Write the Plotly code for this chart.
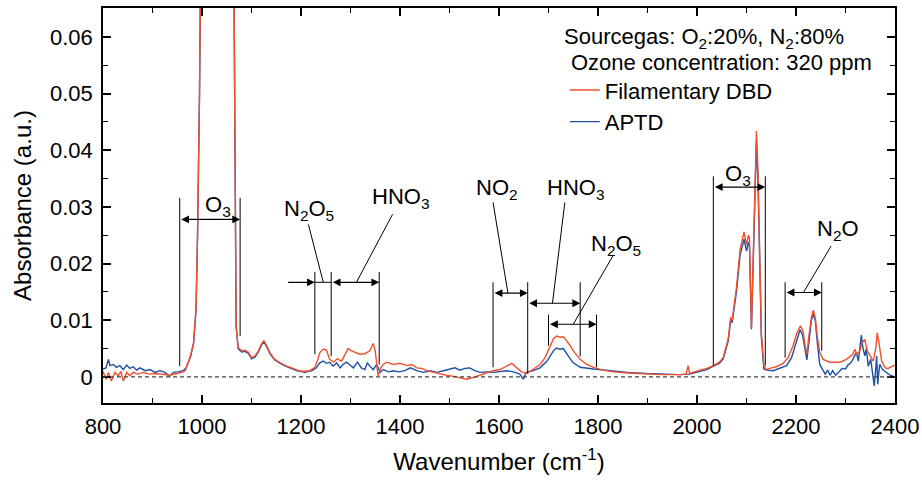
import plotly.graph_objects as go

# ---------------- data ----------------
dbd_wavenumber = [800, 806, 811, 817, 824, 831, 836, 841, 848, 854, 861, 871, 881, 895, 908, 922, 935, 949, 959, 966,
                  970, 976, 983, 988, 991, 995, 998, 1005, 1020, 1040, 1055, 1062, 1065, 1067, 1069, 1073, 1080, 1087,
                  1094, 1100, 1107, 1114, 1120, 1125, 1131, 1137, 1147, 1158, 1171, 1184, 1195, 1205, 1218, 1228, 1233,
                  1238, 1245, 1251, 1258, 1266, 1273, 1282, 1289, 1295, 1302, 1309, 1319, 1329, 1339, 1346, 1350, 1354,
                  1356, 1361, 1366, 1373, 1387, 1400, 1414, 1424, 1434, 1444, 1454, 1468, 1481, 1494, 1508, 1521, 1535,
                  1548, 1562, 1575, 1588, 1602, 1616, 1626, 1636, 1646, 1656, 1669, 1683, 1693, 1700, 1710, 1716, 1723,
                  1730, 1737, 1744, 1750, 1757, 1764, 1777, 1791, 1810, 1831, 1860, 1898, 1930, 1966, 1978, 1982, 1985,
                  2006, 2020, 2033, 2045, 2053, 2063, 2068, 2071, 2080, 2087, 2095, 2100, 2104, 2106, 2110, 2114, 2117,
                  2120, 2123, 2126, 2130, 2135, 2140, 2147, 2160, 2174, 2184, 2194, 2202, 2209, 2214, 2219, 2222, 2226,
                  2231, 2235, 2239, 2243, 2248, 2255, 2268, 2289, 2302, 2315, 2319, 2323, 2329, 2333, 2339, 2344, 2351,
                  2356, 2361, 2364, 2368, 2373, 2380, 2386, 2393, 2400]
dbd_absorbance = [0.0010, -0.0004, 0.0008, -0.0007, 0.0008, 0.0002, 0.0010, -0.0007, 0.0008, 0.0002, 0.0008, 0.0005,
                  0.0008, 0.0005, 0.0006, 0.0004, 0.0003, 0.0006, 0.0008, 0.0011,
                  0.0022, 0.0035, 0.0060, 0.0120, 0.0250, 0.0500, 0.0800, 0.15, 0.25, 0.30, 0.20, 0.10, 0.05, 0.02,
                  0.009, 0.0052, 0.0046, 0.0047,
                  0.0043, 0.0034, 0.0037, 0.0046, 0.0058, 0.0064, 0.0055, 0.0043, 0.0031, 0.0025, 0.0019, 0.0015,
                  0.0011, 0.0010, 0.0011, 0.0017, 0.0028,
                  0.0043, 0.0049, 0.0048, 0.0031, 0.0026, 0.0032, 0.0028, 0.0040, 0.0050, 0.0046, 0.0043, 0.0040,
                  0.0041, 0.0046, 0.0059, 0.0046, 0.0014,
                  0.0002, 0.0016, 0.0022, 0.0026, 0.0022, 0.0024, 0.0020, 0.0022, 0.0016, 0.0015, 0.0011, 0.0008,
                  0.0005, 0.0003, 0.0001, -0.0001, -0.0004,
                  -0.0001, 0.0003, 0.0006, 0.0011, 0.0013, 0.0019, 0.0024, 0.0016, 0.0009, 0.0006, 0.0013, 0.0022,
                  0.0034, 0.0049, 0.0067, 0.0072, 0.0070,
                  0.0071, 0.0064, 0.0055, 0.0046, 0.0038, 0.0031, 0.0022, 0.0017, 0.0012, 0.0009, 0.0007, 0.0005,
                  0.0004, 0.0004, 0.0005, 0.0020, 0.0006,
                  0.0012, 0.0015, 0.0020, 0.0026, 0.0034, 0.0067, 0.0105, 0.0100, 0.0160, 0.0225, 0.0256, 0.0233,
                  0.0250, 0.0245, 0.0087, 0.0220, 0.0350,
                  0.0434, 0.0370, 0.0260, 0.0078, 0.0020, 0.0013, 0.0015, 0.0018, 0.0024, 0.0034, 0.0055, 0.0078,
                  0.0090, 0.0081, 0.0052, 0.0040, 0.0072,
                  0.0104, 0.0118, 0.0104, 0.0072, 0.0043, 0.0031, 0.0026, 0.0026, 0.0031, 0.0040, 0.0049, 0.0040,
                  0.0046, 0.0060, 0.0066, 0.0046, 0.0034,
                  0.0028, 0.0049, 0.0078, 0.0058, 0.0028, 0.0016, 0.0015, 0.0018, 0.0021]

aptd_wavenumber = [800, 806, 811, 814, 821, 827, 834, 841, 848, 854, 861, 868, 875, 885, 895, 905, 915, 925, 935, 942,
                   952, 962, 968, 972, 977, 983, 988, 991, 995, 998, 1005, 1020, 1040, 1055, 1062, 1065, 1067, 1069,
                   1073, 1080, 1087, 1094, 1100, 1107, 1114, 1120, 1125, 1131, 1137, 1147, 1158, 1171, 1184, 1191,
                   1208, 1222, 1231, 1238, 1245, 1251, 1258, 1265, 1272, 1279, 1285, 1292, 1299, 1306, 1314, 1322,
                   1329, 1334, 1339, 1346, 1353, 1360, 1366, 1377, 1387, 1397, 1410, 1421, 1434, 1447, 1461, 1474,
                   1488, 1501, 1511, 1521, 1531, 1541, 1551, 1562, 1575, 1588, 1602, 1616, 1629, 1642, 1649, 1655,
                   1669, 1683, 1697, 1704, 1710, 1716, 1723, 1730, 1737, 1744, 1750, 1764, 1791, 1831, 1860, 1898,
                   1930, 1966, 1985, 2006, 2020, 2033, 2045, 2053, 2063, 2068, 2071, 2080, 2087, 2095, 2100, 2104,
                   2106, 2110, 2114, 2117, 2120, 2123, 2126, 2130, 2135, 2141, 2154, 2167, 2181, 2191, 2199, 2208,
                   2213, 2218, 2222, 2226, 2231, 2235, 2239, 2243, 2248, 2255, 2259, 2264, 2269, 2274, 2280, 2287,
                   2293, 2300, 2305, 2311, 2317, 2322, 2326, 2329, 2332, 2335, 2339, 2342, 2346, 2351, 2354, 2358,
                   2361, 2363, 2365, 2369, 2375, 2382, 2390, 2400]
aptd_absorbance = [0.0014, 0.0016, 0.0031, 0.0020, 0.0022, 0.0017, 0.0020, 0.0013, 0.0021, 0.0015, 0.0018, 0.0012,
                   0.0016, 0.0011, 0.0013, 0.0008, 0.0011, 0.0008, 0.0001, 0.0008,
                   0.0009, 0.0011, 0.0016, 0.0024, 0.0036, 0.0060, 0.0120, 0.0250, 0.0500, 0.0800, 0.15, 0.25, 0.30,
                   0.20, 0.10, 0.05, 0.02, 0.009,
                   0.0050, 0.0044, 0.0045, 0.0041, 0.0032, 0.0035, 0.0044, 0.0056, 0.0062, 0.0053, 0.0041, 0.0030,
                   0.0024, 0.0018, 0.0014, 0.0011,
                   0.0008, 0.0011, 0.0016, 0.0025, 0.0028, 0.0024, 0.0026, 0.0019, 0.0025, 0.0016, 0.0022, 0.0026,
                   0.0021, 0.0016, 0.0026, 0.0016,
                   0.0013, 0.0025, 0.0019, 0.0013, 0.0022, 0.0008, 0.0013, 0.0009, 0.0011, 0.0009, 0.0011, 0.0016,
                   0.0011, 0.0008, 0.0011, 0.0008,
                   0.0011, 0.0014, 0.0016, 0.0012, 0.0015, 0.0016, 0.0011, 0.0008, 0.0009, 0.0008, 0.0009, 0.0011,
                   0.0009, 0.0005, -0.0004, 0.0008,
                   0.0011, 0.0016, 0.0028, 0.0038, 0.0046, 0.0051, 0.0049, 0.0050, 0.0040, 0.0032, 0.0025, 0.0017,
                   0.0014, 0.0010, 0.0008, 0.0006,
                   0.0005, 0.0004, 0.0005, 0.0010, 0.0013, 0.0019, 0.0024, 0.0032, 0.0063, 0.0100, 0.0096, 0.0152,
                   0.0215, 0.0243, 0.0222, 0.0238,
                   0.0230, 0.0084, 0.0210, 0.0330, 0.0414, 0.0350, 0.0240, 0.0070, 0.0014, 0.0012, 0.0011, 0.0015,
                   0.0020, 0.0034, 0.0058, 0.0083,
                   0.0075, 0.0052, 0.0030, 0.0061, 0.0099, 0.0112, 0.0099, 0.0061, 0.0022, 0.0011, 0.0005, 0.0012,
                   0.0003, 0.0011, 0.0003, 0.0009,
                   0.0015, 0.0014, 0.0021, 0.0025, 0.0034, 0.0043, 0.0028, 0.0052, 0.0074, 0.0052, 0.0037, 0.0050,
                   0.0019, 0.0031, 0.0008, -0.0016,
                   0.0013, 0.0037, -0.0013, 0.0022, 0.0013, 0.0008, 0.0003, 0.0000]

series_names = ["Filamentary DBD", "APTD"]
x_tick_values = [800, 1000, 1200, 1400, 1600, 1800, 2000, 2200, 2400]
y_tick_values = [0, 0.01, 0.02, 0.03, 0.04, 0.05, 0.06]
y_tick_labels = ["0", "0.01", "0.02", "0.03", "0.04", "0.05", "0.06"]

# band assignment labels: (text, x, y)
band_labels = [
    ("O<sub>3</sub>", 1032, 0.0301),
    ("N<sub>2</sub>O<sub>5</sub>", 1216, 0.0294),
    ("HNO<sub>3</sub>", 1400, 0.0316),
    ("NO<sub>2</sub>", 1596, 0.0331),
    ("HNO<sub>3</sub>", 1755, 0.0331),
    ("N<sub>2</sub>O<sub>5</sub>", 1836, 0.0232),
    ("O<sub>3</sub>", 2082, 0.0357),
    ("N<sub>2</sub>O", 2284, 0.0260),
]
# vertical bracket lines: (x, y_bottom, y_top)
bracket_lines = [
    (955, 0.0019, 0.0316), (1077, 0.0072, 0.0316),
    (1228, 0.0040, 0.0185), (1261, 0.0037, 0.0185), (1358, 0.0022, 0.0185),
    (1588, 0.0017, 0.0167), (1658, 0.0006, 0.0167), (1764, 0.0036, 0.0167),
    (1700, 0.0055, 0.0110), (1797, 0.0017, 0.0110),
    (2033, 0.0020, 0.0354), (2138, 0.0020, 0.0354),
    (2178, 0.0034, 0.0167), (2252, 0.0046, 0.0167),
]
# arrows: (x_from, x_to, y, both_ends)
bracket_arrows = [
    (955, 1077, 0.0278, True),
    (1171, 1228, 0.0167, False),
    (1261, 1358, 0.0167, True),
    (1588, 1658, 0.0148, True),
    (1658, 1764, 0.0130, True),
    (1700, 1797, 0.0093, True),
    (2033, 2138, 0.0335, True),
    (2178, 2252, 0.0149, True),
]
# plain segments: (x0, y0, x1, y1)
leader_lines = [
    (1228, 0.0167, 1261, 0.0167),
    (1215, 0.0269, 1245, 0.0167),
    (1312, 0.0167, 1385, 0.0287),
    (1588, 0.0308, 1618, 0.0148),
    (1733, 0.0308, 1708, 0.0130),
    (1831, 0.0215, 1750, 0.0093),
    (2271, 0.0231, 2215, 0.0149),
]

RED = "#F0502D"
BLUE = "#1E4FA3"
FONT = "Liberation Sans, Arial, Helvetica, sans-serif"
FS = 22

fig = go.Figure()
fig.add_trace(go.Scatter(x=aptd_wavenumber, y=aptd_absorbance, mode="lines", name=series_names[1],
                         line=dict(color=BLUE, width=1.4)))
fig.add_trace(go.Scatter(x=dbd_wavenumber, y=dbd_absorbance, mode="lines", name=series_names[0],
                         line=dict(color=RED, width=1.4)))

# zero dashed line
fig.add_shape(type="line", xref="paper", yref="y", x0=0, x1=1, y0=0, y1=0,
              line=dict(color="#444444", width=1.2, dash="4px,3px"))

for (xv, yb, yt) in bracket_lines:
    fig.add_shape(type="line", xref="x", yref="y", x0=xv, x1=xv, y0=yb, y1=yt,
                  line=dict(color="black", width=1))
for (x0, y0, x1, y1) in leader_lines:
    fig.add_shape(type="line", xref="x", yref="y", x0=x0, x1=x1, y0=y0, y1=y1,
                  line=dict(color="black", width=1))
for (xf, xt, yv, both) in bracket_arrows:
    fig.add_annotation(x=xt, y=yv, ax=xf, ay=yv, xref="x", yref="y", axref="x", ayref="y",
                       text="", showarrow=True, arrowhead=2, arrowsize=1.3, arrowwidth=1.2,
                       arrowcolor="black", arrowside="end+start" if both else "end",
                       standoff=0, startstandoff=0)
for (txt, xv, yv) in band_labels:
    fig.add_annotation(x=xv, y=yv, xref="x", yref="y", text=txt, showarrow=False,
                       font=dict(family=FONT, size=FS, color="black"))

fig.add_annotation(xref="paper", yref="paper", x=0.579, y=0.924, xanchor="left", yanchor="middle",
                   text="Sourcegas: O<sub>2</sub>:20%, N<sub>2</sub>:80%", showarrow=False,
                   font=dict(family=FONT, size=FS, color="black"))
fig.add_annotation(xref="paper", yref="paper", x=0.589, y=0.863, xanchor="left", yanchor="middle",
                   text="Ozone concentration: 320 ppm", showarrow=False,
                   font=dict(family=FONT, size=FS, color="black"))

axis_common = dict(showline=True, linecolor="black", linewidth=1.6, mirror="ticks",
                   ticks="inside", ticklen=8, tickwidth=1.5, tickcolor="black",
                   showgrid=False, zeroline=False, automargin=False,
                   tickfont=dict(family=FONT, size=FS, color="black"))

fig.update_layout(
    width=922, height=481,
    margin=dict(l=103, r=27, t=8, b=78, autoexpand=False),
    paper_bgcolor="white", plot_bgcolor="white",
    font=dict(family=FONT, size=FS, color="black"),
    showlegend=True,
    legend=dict(x=0.583, y=0.845, xanchor="left", yanchor="top", bgcolor="rgba(0,0,0,0)",
                font=dict(family=FONT, size=FS), itemwidth=30, traceorder="reversed",
                tracegroupgap=0),
    xaxis=dict(range=[800, 2400], tickvals=x_tick_values,
               minor=dict(dtick=100, ticks="inside", ticklen=5, tickwidth=1.2, tickcolor="black"),
               title=dict(text="Wavenumber (cm<sup>-1</sup>)", font=dict(family=FONT, size=24), standoff=15),
               ticklabelstandoff=3, **axis_common),
    yaxis=dict(range=[-0.0046, 0.0651], tickvals=y_tick_values, ticktext=y_tick_labels,
               minor=dict(dtick=0.005, tick0=0, ticks="inside", ticklen=5, tickwidth=1.2, tickcolor="black"),
               title=dict(text="Absorbance (a.u.)", font=dict(family=FONT, size=24), standoff=12),
               ticklabelstandoff=4, **axis_common),
)

fig.write_html("out.html", config={"displayModeBar": False},
               post_script="document.body.style.margin='0';document.body.style.padding='0';"
                           "document.documentElement.style.overflow='hidden';")
